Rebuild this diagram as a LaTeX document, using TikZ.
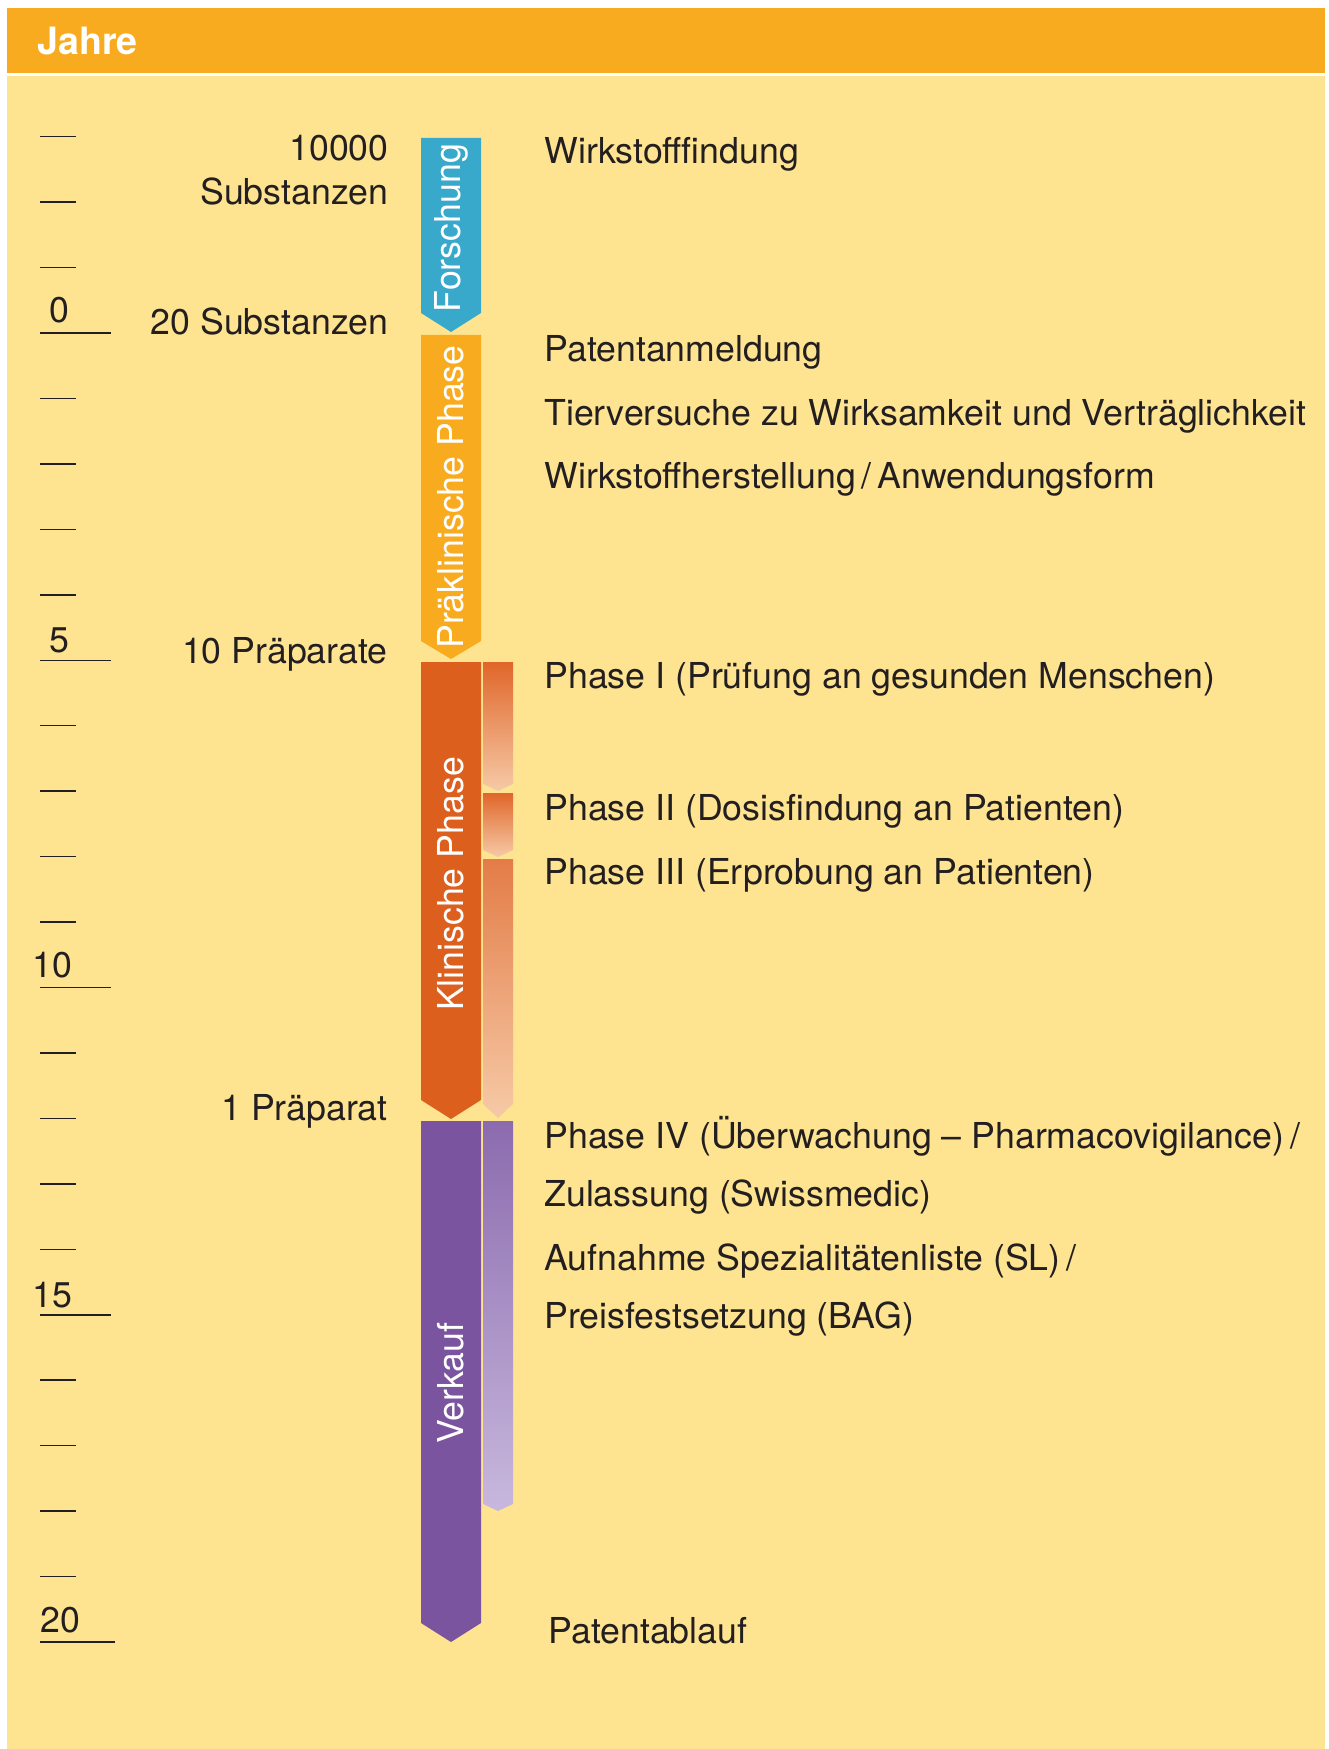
\documentclass[tikz,border=0pt]{standalone}
\usepackage{fontspec}
\setmainfont{TeX Gyre Heros}
\usepackage{tikz}
\usetikzlibrary{positioning}
\definecolor{headorange}{HTML}{F9AB1F}
\definecolor{bgyellow}{HTML}{FEE491}
\definecolor{inkgray}{HTML}{231F20}
\definecolor{forschblue}{HTML}{39A9CB}
\definecolor{praeorange}{HTML}{F9AB1F}
\definecolor{klinred}{HTML}{DD5F1E}
\definecolor{verkpurple}{HTML}{7B54A0}
\definecolor{peachtop}{HTML}{E0662A}
\definecolor{peachmid}{HTML}{E37C47}
\definecolor{peachlow}{HTML}{F6CAA7}
\definecolor{lilactop}{HTML}{8B6BAE}
\definecolor{lilaclow}{HTML}{C8B8DD}
\newcommand{\basefont}{\fontsize{17.85}{21}\selectfont}
\tikzstyle{stagelabel} = [text=white, rotate=90, inner sep=0pt, font=\basefont]
\tikzstyle{eventtext} = [anchor=base west, text=inkgray, inner sep=0pt, font=\basefont]
\tikzstyle{amounttext} = [anchor=base east, text=inkgray, inner sep=0pt, font=\basefont]
\tikzstyle{yeartext} = [anchor=base, text=inkgray, inner sep=0pt, font=\basefont]
\tikzstyle{tickline} = [draw, color=inkgray, line width=0.75pt]
\newcommand{\eventtext}[2]{node (e#1) [eventtext] {#2}}
\newcommand{\amounttext}[2]{node (a#1) [amounttext] {#2}}
\newcommand{\yeartext}[2]{node (y#1) [yeartext] {#2}}
\newcommand{\stagelabel}[2]{node (s#1) [stagelabel] {#2}}
% main bar: colour, top, rect bottom, tip
\newcommand{\stagebar}[4]{\fill[#1] (421,#2) -- (481,#2) -- (481,#3) -- (451,#4) -- (421,#3) -- cycle;}
% side bar: top colour, bottom colour, top, rect bottom, tip
\newcommand{\subbar}[5]{\shade[top color=#1, bottom color=#2] (483,#3) -- (513,#3) -- (513,#4) -- (498,#5) -- (483,#4) -- cycle;}

\begin{document}
\begin{tikzpicture}[x=0.5pt,y=-0.5pt]
\useasboundingbox (0,0) rectangle (1328,1749);
\fill[white] (0,0) rectangle (1328,1749);
\fill[headorange] (7,8) rectangle (1325,73);
\fill[bgyellow] (7,76) rectangle (1325,1749);
\path (37,55) node (head) [anchor=base west, text=white, inner sep=0pt, font=\fontsize{18.8}{22}\selectfont\bfseries] {Jahre};

% year scale
\foreach \t in {-3,...,20} {
  \path[tickline] (40,{333+65.45*\t}) -- (76,{333+65.45*\t});
}
\foreach \t in {0,5,10,15} {
  \path[tickline] (40,{333+65.45*\t}) -- (111,{333+65.45*\t});
}
\path[tickline] (40,1642) -- (115,1642);
\path (59,323) \yeartext{0}{0};
\path (59,652) \yeartext{5}{5};
\path (52,977) \yeartext{10}{10};
\path (52,1307) \yeartext{15}{15};
\path (60,1632) \yeartext{20}{20};

% number of candidates
\path (389,161) \amounttext{1}{10000};
\path (a1.base east)+(0,44) \amounttext{2}{Substanzen};
\path (389,335) \amounttext{3}{20 Substanzen};
\path (388,663) \amounttext{4}{10 Präparate};
\path (388,1120) \amounttext{5}{1 Präparat};

% stages
\stagebar{forschblue}{138}{313}{332}
\stagebar{praeorange}{335}{641}{659}
\stagebar{klinred}{662}{1100}{1119}
\stagebar{verkpurple}{1121}{1623}{1642}
\subbar{peachtop}{peachlow}{662}{784}{791}
\subbar{peachtop}{peachlow}{793}{850}{857}
\subbar{peachmid}{peachlow}{859}{1104}{1118}
\subbar{lilactop}{lilaclow}{1121}{1504}{1511}
\path (451,228) \stagelabel{1}{Forschung};
\path (451,497) \stagelabel{2}{Präklinische Phase};
\path (451,884) \stagelabel{3}{Klinische Phase};
\path (451,1383) \stagelabel{4}{Verkauf};

% events
\path (544,164) \eventtext{1}{Wirkstofffindung};
\path (544,362) \eventtext{2}{Patentanmeldung};
\path (e2.base west)+(0,63) \eventtext{3}{Tierversuche zu Wirksamkeit und Verträglichkeit};
\path (e3.base west)+(0,63) \eventtext{4}{Wirkstoffherstellung\,/\,Anwendungsform};
\path (544,688) \eventtext{5}{Phase I (Prüfung an gesunden Menschen)};
\path (544,820) \eventtext{6}{Phase II (Dosisfindung an Patienten)};
\path (544,884) \eventtext{7}{Phase III (Erprobung an Patienten)};
\path (544,1148) \eventtext{8}{Phase IV (Überwachung – Pharmacovigilance)\,/};
\path (e8.base west)+(0,58) \eventtext{9}{Zulassung (Swissmedic)};
\path (544,1270) \eventtext{10}{Aufnahme Spezialitätenliste (SL)\,/};
\path (e10.base west)+(0,58) \eventtext{11}{Preisfestsetzung (BAG)};
\path (548,1643) \eventtext{12}{Patentablauf};
\end{tikzpicture}
\end{document}
